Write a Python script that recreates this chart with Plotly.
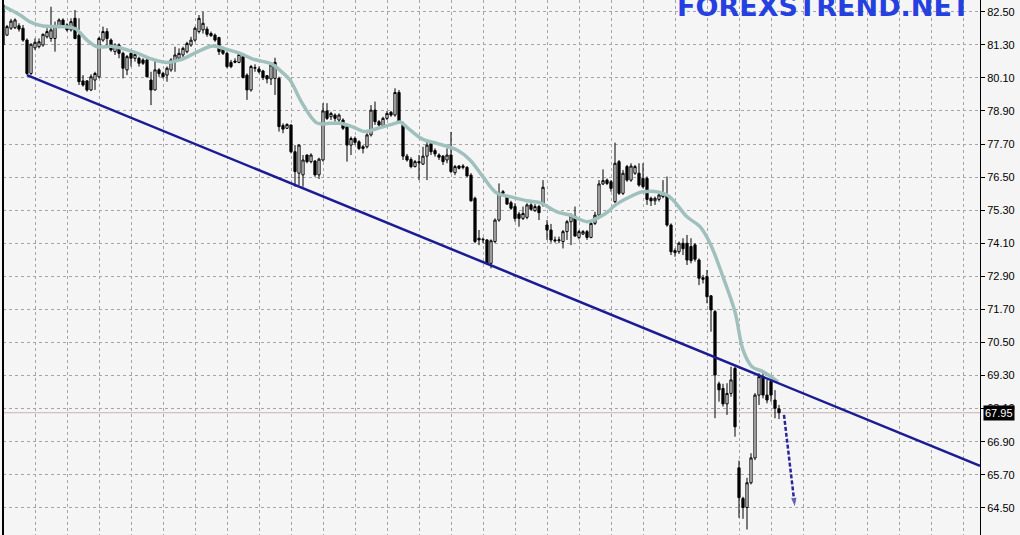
import plotly.graph_objects as go

# ---- candle data (bar index, open, high, low, close) ----
bar_index = list(range(-1, 194))
opens = [82.75, 81.65, 81.90, 81.92, 81.99, 81.90, 81.47, 80.26, 81.19, 81.23, 81.29,
         81.59, 81.53, 81.53, 81.96, 82.20, 82.02, 81.84, 82.26, 81.65, 79.99,
         79.99, 79.66, 80.02, 80.14, 81.47, 81.78, 81.47, 81.05, 81.29, 80.99,
         80.39, 80.99, 80.81, 80.81, 80.75, 80.75, 80.02, 79.66, 80.39, 80.26,
         80.20, 80.39, 80.69, 80.81, 80.93, 81.05, 81.29, 81.47, 81.78, 81.84,
         81.87, 81.71, 81.65, 81.56, 81.17, 80.99, 80.66, 80.71, 80.66, 80.87,
         80.20, 79.66, 80.45, 80.42, 80.35, 80.18, 80.06, 80.08, 80.08, 78.37,
         78.27, 78.39, 77.42, 76.64, 76.58, 77.30, 77.06, 77.08, 76.58, 77.12,
         78.90, 78.69, 78.75, 78.57, 78.57, 78.33, 77.66, 77.90, 77.78, 77.60,
         77.60, 78.03, 78.93, 78.51, 78.37, 78.63, 78.85, 78.75, 79.57, 78.39,
         77.26, 77.14, 76.88, 77.06, 76.97, 77.26, 77.72, 77.46, 77.30, 77.26,
         77.12, 77.30, 76.66, 76.90, 76.85, 76.85, 76.57, 75.73, 74.28, 74.22,
         74.22, 73.37, 74.16, 74.94, 75.91, 75.79, 75.57, 75.43, 75.16, 75.00,
         75.04, 75.49, 75.28, 75.43, 75.49, 74.76, 74.58, 74.22, 74.19, 74.16,
         74.52, 74.88, 75.09, 74.31, 74.43, 74.52, 74.31, 74.82, 75.12, 76.25,
         76.39, 76.33, 75.61, 77.06, 75.91, 76.88, 76.39, 76.64, 76.64, 76.45,
         76.45, 75.73, 75.64, 75.69, 75.79, 75.85, 74.76, 73.83, 73.79, 74.10,
         74.10, 73.98, 74.04, 73.49, 72.85, 72.89, 72.19, 71.62, 69.00, 68.83,
         68.27, 68.65, 69.56, 65.95, 64.84, 64.51, 65.41, 66.31, 68.59, 69.26,
         68.59, 69.08, 68.41, 68.09]
highs = [82.85, 82.02, 82.24, 82.26, 82.08, 82.02, 81.53, 81.35, 81.53, 81.53, 81.71,
         81.90, 82.68, 82.14, 82.26, 82.26, 82.08, 82.26, 82.56, 82.26, 80.20,
         80.02, 80.23, 80.32, 81.59, 81.96, 81.90, 81.53, 81.35, 81.35, 81.05,
         80.93, 81.05, 80.99, 80.87, 80.81, 80.81, 80.32, 80.75, 80.45, 80.32,
         80.51, 80.81, 81.23, 81.17, 81.23, 81.41, 81.59, 81.96, 82.38, 82.50,
         81.96, 81.78, 81.71, 81.59, 81.23, 81.05, 80.75, 80.81, 80.99, 80.93,
         80.26, 80.57, 80.59, 80.51, 80.39, 80.20, 80.63, 80.83, 80.14, 78.45,
         78.45, 78.41, 77.66, 77.69, 77.30, 77.32, 77.36, 77.12, 77.20, 79.18,
         79.18, 78.87, 78.81, 78.81, 78.63, 78.39, 77.97, 77.97, 77.84, 77.66,
         78.09, 79.11, 79.24, 78.57, 78.69, 78.90, 78.90, 79.72, 79.66, 78.51,
         77.34, 77.22, 77.12, 77.30, 77.60, 77.78, 77.78, 77.54, 77.36, 77.30,
         77.54, 78.14, 76.94, 76.94, 76.97, 76.90, 76.64, 75.79, 74.58, 74.31,
         74.24, 74.24, 75.00, 76.27, 76.03, 75.85, 75.64, 75.55, 75.24, 75.43,
         75.55, 75.55, 75.52, 75.49, 76.39, 74.94, 74.80, 74.34, 74.34, 74.58,
         74.94, 75.18, 75.43, 74.58, 74.58, 74.58, 74.88, 75.24, 76.39, 76.78,
         76.45, 76.39, 77.75, 77.12, 76.76, 76.94, 77.00, 76.94, 77.00, 77.00,
         76.52, 75.79, 75.79, 75.97, 76.39, 76.52, 74.82, 73.91, 74.16, 74.28,
         74.40, 74.28, 74.10, 73.55, 72.95, 73.13, 72.22, 71.68, 69.08, 69.00,
         69.02, 69.62, 69.62, 66.21, 64.90, 65.59, 66.48, 68.66, 69.38, 69.38,
         69.14, 69.14, 68.77, 68.23]
lows = [81.25, 81.63, 81.84, 81.87, 81.78, 81.41, 80.20, 80.20, 81.11, 81.17, 81.23,
        81.53, 81.41, 81.05, 81.90, 81.96, 81.78, 81.78, 81.50, 79.84, 79.78,
        79.60, 79.62, 79.66, 80.08, 81.41, 81.29, 81.05, 80.93, 80.81, 80.08,
        80.20, 80.51, 80.69, 80.51, 80.57, 80.12, 79.11, 79.64, 80.14, 80.08,
        79.96, 80.32, 80.32, 80.75, 80.81, 80.99, 81.23, 81.41, 81.71, 81.71,
        81.59, 81.59, 81.41, 80.93, 80.93, 80.45, 80.45, 80.63, 80.63, 80.08,
        79.30, 79.60, 80.32, 80.26, 80.02, 79.90, 79.84, 79.48, 78.15, 78.09,
        78.24, 77.36, 76.15, 76.21, 76.15, 77.00, 77.00, 76.51, 76.43, 77.06,
        78.57, 78.57, 78.51, 78.39, 78.21, 77.06, 77.30, 77.66, 77.48, 77.36,
        77.54, 77.97, 78.39, 78.33, 78.33, 78.57, 78.69, 78.69, 78.45, 77.12,
        77.06, 76.82, 76.85, 76.39, 76.94, 76.39, 77.30, 77.24, 77.12, 76.94,
        77.00, 76.64, 76.57, 76.78, 76.78, 76.51, 75.61, 74.10, 74.03, 74.10,
        73.31, 73.19, 74.10, 74.88, 75.85, 75.49, 75.31, 74.88, 74.70, 74.94,
        74.97, 75.28, 75.24, 74.94, 75.43, 74.22, 74.12, 74.12, 74.10, 73.91,
        74.22, 74.03, 74.34, 74.24, 74.40, 74.22, 74.28, 74.76, 75.06, 76.21,
        76.21, 75.97, 75.55, 75.85, 75.85, 76.33, 76.33, 76.58, 76.15, 76.09,
        75.49, 75.45, 75.49, 75.61, 75.73, 74.70, 73.67, 73.61, 73.71, 73.67,
        73.31, 73.37, 73.43, 72.58, 72.64, 71.92, 70.89, 67.75, 68.35, 68.17,
        67.87, 68.53, 67.08, 64.14, 64.10, 63.71, 65.35, 66.23, 68.23, 68.47,
        68.29, 68.35, 67.75, 67.72]
closes = [81.30, 81.96, 82.16, 82.20, 81.87, 81.47, 80.26, 81.32, 81.39, 81.41, 81.68,
          81.78, 81.84, 81.96, 82.20, 82.02, 81.84, 82.14, 81.53, 79.96, 79.84,
          79.66, 80.14, 80.26, 81.53, 81.78, 81.53, 81.11, 81.29, 80.99, 80.45,
          80.87, 80.81, 80.95, 80.63, 80.63, 80.14, 79.66, 80.39, 80.26, 80.14,
          80.45, 80.75, 80.93, 80.99, 81.17, 81.35, 81.47, 81.90, 82.26, 82.08,
          81.68, 81.63, 81.47, 81.05, 80.99, 80.51, 80.51, 80.67, 80.95, 80.11,
          79.66, 80.51, 80.47, 80.32, 80.11, 80.06, 80.57, 80.66, 78.33, 78.24,
          78.41, 77.42, 76.70, 77.66, 77.12, 77.06, 77.30, 76.58, 77.15, 78.90,
          78.63, 78.81, 78.63, 78.75, 78.27, 77.66, 77.90, 77.76, 77.54, 77.54,
          78.03, 78.93, 78.51, 78.39, 78.63, 78.81, 78.75, 79.57, 78.51, 77.26,
          77.12, 76.88, 77.06, 77.02, 77.26, 77.66, 77.42, 77.34, 77.22, 77.06,
          77.30, 76.70, 76.88, 76.82, 76.90, 76.54, 75.64, 74.16, 74.22, 74.24,
          73.37, 74.19, 74.94, 75.93, 75.97, 75.52, 75.37, 75.00, 75.00, 75.18,
          75.49, 75.33, 75.43, 75.21, 76.13, 74.58, 74.22, 74.19, 74.22, 74.52,
          74.88, 75.09, 74.36, 74.52, 74.52, 74.31, 74.82, 75.12, 76.25, 76.37,
          76.27, 76.09, 77.00, 75.91, 76.64, 76.39, 76.90, 76.88, 76.21, 76.15,
          75.69, 75.64, 75.73, 75.85, 75.91, 74.76, 73.79, 73.76, 74.10, 73.90,
          73.49, 73.47, 73.52, 72.83, 72.79, 72.16, 71.68, 69.32, 68.78, 68.27,
          68.65, 69.14, 67.44, 64.87, 64.51, 65.41, 66.31, 68.59, 69.26, 68.59,
          68.41, 68.59, 68.11, 67.95]

# ---- moving average ----
ma_index = [-0.5, 3.25, 5.75, 9, 13.25, 17, 20, 22.5, 26.5, 31.5, 36.5, 40, 43.25,
            48.25, 51.5, 55, 58.25, 61.5, 66.25, 68.75, 70.75, 73.75, 77.5, 80.75,
            83.25, 86.25, 89.5, 92.75, 97, 98.25, 100.75, 104, 107.5, 112.5, 115.75,
            119, 122.5, 125.75, 130, 133.25, 137.5, 140.75, 145, 147.5, 150.75,
            151.5, 155, 159, 165, 170, 173.25, 175.75, 179, 182, 184, 186.25, 189,
            192.75]
ma_values = [82.67, 82.38, 82.13, 81.98, 81.96, 81.89, 81.47, 81.23, 81.24, 81.05,
             80.77, 80.66, 80.75, 81.09, 81.26, 81.13, 80.99, 80.78, 80.60, 80.31,
             80.02, 79.19, 78.46, 78.45, 78.45, 78.33, 78.15, 78.27, 78.45, 78.50,
             78.21, 77.87, 77.72, 77.48, 77.12, 76.51, 75.91, 75.79, 75.64, 75.57,
             75.24, 75.12, 74.88, 75.00, 75.30, 75.42, 75.73, 75.97, 75.85, 75.06,
             74.70, 74.10, 72.88, 71.61, 70.23, 69.62, 69.44, 69.07]

# ---- drawn objects ----
trend_index = [5, 243.25]
trend_price = [80.20, 66.02]
arrow_index = [194.25, 197.0]
arrow_price = [67.87, 64.50]
current_price = 67.95

tick_values = [82.50, 81.30, 80.10, 78.90, 77.70, 76.50, 75.30, 74.10, 72.90,
               71.70, 70.50, 69.30, 68.10, 66.90, 65.70, 64.50]
tick_labels = ["%.2f" % v for v in tick_values]

fig = go.Figure()

fig.add_trace(go.Candlestick(
    x=bar_index, open=opens, high=highs, low=lows, close=closes,
    increasing=dict(line=dict(color="black", width=1), fillcolor="white"),
    decreasing=dict(line=dict(color="black", width=1), fillcolor="black"),
    whiskerwidth=0, showlegend=False, hoverinfo="skip"))

fig.add_trace(go.Scatter(
    x=ma_index, y=ma_values, mode="lines",
    line=dict(color="#A0C0BD", width=3.5, shape="spline", smoothing=1.0),
    showlegend=False, hoverinfo="skip"))

fig.add_trace(go.Scatter(
    x=trend_index, y=trend_price, mode="lines",
    line=dict(color="#1B1B94", width=2.5),
    showlegend=False, hoverinfo="skip"))

fig.add_trace(go.Scatter(
    x=arrow_index, y=arrow_price, mode="lines+markers",
    line=dict(color="#26269A", width=2.5, dash="4px,2px"),
    marker=dict(symbol="arrow", size=[0, 11], angleref="previous", color="#26269A"),
    showlegend=False, hoverinfo="skip"))

fig.add_shape(type="line", xref="paper", x0=0, x1=1, yref="y",
              y0=current_price, y1=current_price,
              line=dict(color="#C9B2B2", width=1), layer="below")
fig.add_shape(type="line", xref="paper", x0=0, x1=0, yref="paper", y0=0, y1=1,
              line=dict(color="black", width=2))

fig.add_annotation(xref="paper", x=1, xanchor="left", xshift=3,
                   yref="y", y=current_price, yanchor="middle",
                   text="%.2f" % current_price, showarrow=False,
                   bgcolor="black", borderpad=1,
                   font=dict(family="Liberation Sans", size=11, color="white"))

fig.add_annotation(xref="paper", x=0.9925, xanchor="right",
                   yref="paper", y=1.0, yanchor="middle", yshift=-6,
                   text="<b>FOREXSTREND.NET</b>", showarrow=False,
                   font=dict(family="DejaVu Sans", size=27, color="#2540E0"))

fig.update_layout(
    width=1020, height=535,
    margin=dict(l=3, r=40, t=0, b=0),
    paper_bgcolor="#F5F5F5", plot_bgcolor="#F5F5F5",
    boxgap=0.45, boxgroupgap=0,
    xaxis=dict(range=[-1, 243.25], tick0=7, dtick=8, showticklabels=False,
               showgrid=True, gridcolor="#A5A5A5", griddash="3px,3px", gridwidth=1,
               zeroline=False, showline=False, ticks="",
               rangeslider=dict(visible=False), fixedrange=True),
    yaxis=dict(side="right", range=[63.513, 82.925],
               tickvals=tick_values, ticktext=tick_labels,
               showgrid=True, gridcolor="#A5A5A5", griddash="3px,3px", gridwidth=1,
               zeroline=False, showline=True, linecolor="black", linewidth=1,
               ticks="outside", ticklen=4, tickcolor="black",
               tickfont=dict(family="Liberation Sans", size=11, color="black"),
               automargin=False, fixedrange=True),
)

fig.write_html(
    "out.html",
    config={"displayModeBar": False},
    post_script="document.body.style.margin='0';document.body.style.padding='0';"
                "document.body.style.overflow='hidden';")
